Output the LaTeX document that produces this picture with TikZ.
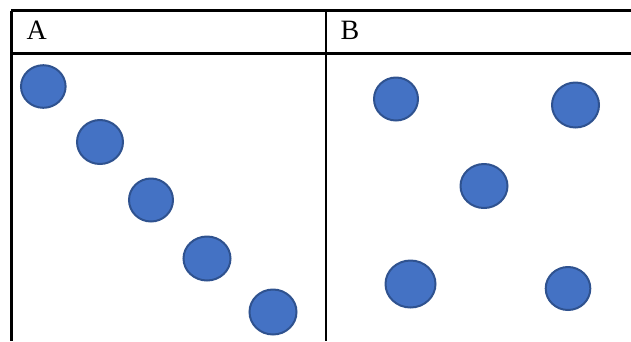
\documentclass[tikz,border=0pt]{standalone}
\usepackage{fontspec}
\setmainfont{Liberation Serif}
\definecolor{dotfill}{HTML}{4472C4}
\definecolor{dotline}{HTML}{2F528F}
\begin{document}
\begin{tikzpicture}[x=1pt,y=-1pt,
  rule/.style={line width=2.4pt,black},
  dot/.style={fill=dotfill,draw=dotline,line width=2pt},
  head/.style={font=\fontsize{28}{28}\selectfont,anchor=base west,inner sep=0pt}]
\useasboundingbox (0,0) rectangle (631,341);
% table rules
\coordinate (tl) at (11.3,10.5);
\coordinate (tr) at (631,10.5);
\coordinate (hl) at (11.3,53.5);
\coordinate (hr) at (631,53.5);
\coordinate (bl) at (11.3,341);
\coordinate (mt) at (326,10.5);
\coordinate (mb) at (326,341);
\draw[rule] (tl) -- (tr);
\draw[rule] (hl) -- (hr);
\draw[rule] (tl) -- (bl);
\draw[rule] (mt) -- (mb);
% headers
\node[head] (hA) at (26.5,39.5) {A};
\node[head] (hB) at (340.5,39.5) {B};
% column A dots
\fill[dot] (43.3,86.5) ellipse [x radius=22.3, y radius=21.3];
\fill[dot] (100,142) ellipse [x radius=23, y radius=22];
\fill[dot] (151,200) ellipse [x radius=22, y radius=21.5];
\fill[dot] (207,258.5) ellipse [x radius=23.5, y radius=22];
\fill[dot] (273,312) ellipse [x radius=23.5, y radius=22.5];
% column B dots
\fill[dot] (396,99) ellipse [x radius=22, y radius=21.5];
\fill[dot] (575.5,105) ellipse [x radius=23.5, y radius=22.5];
\fill[dot] (484,186) ellipse [x radius=23.5, y radius=22];
\fill[dot] (410.5,284) ellipse [x radius=25, y radius=23.5];
\fill[dot] (568,288.5) ellipse [x radius=22.3, y radius=21.5];
\end{tikzpicture}
\end{document}
